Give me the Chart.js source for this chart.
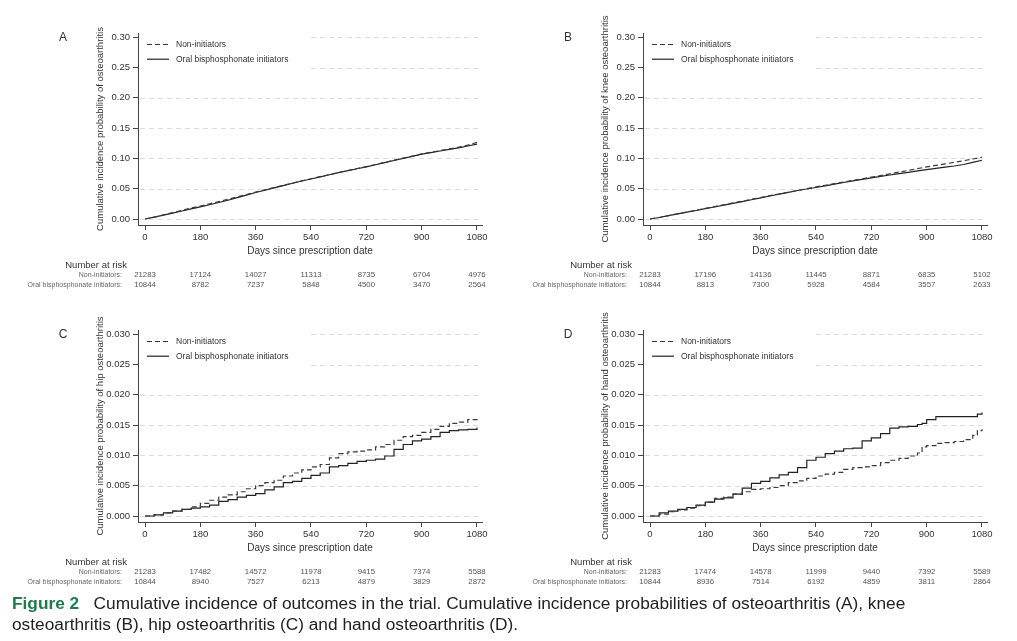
<!DOCTYPE html>
<html><head><meta charset="utf-8">
<script src="https://cdn.jsdelivr.net/npm/chart.js@4.4.1/dist/chart.umd.min.js"></script>
<style>
body{margin:0;background:#fff;width:1017px;height:641px;overflow:hidden;position:relative;font-family:"Liberation Sans",Arial,sans-serif}
canvas{position:absolute}
#cap{position:absolute;left:12px;top:593px;width:1005px;font-size:17.3px;line-height:21px;color:#222;white-space:nowrap}
#cap b{color:#1f7a50}
</style></head><body>
<canvas id="cA" width="505" height="297" style="left:0;top:0"></canvas>
<canvas id="cB" width="512" height="297" style="left:505px;top:0"></canvas>
<canvas id="cC" width="505" height="297" style="left:0;top:297px"></canvas>
<canvas id="cD" width="512" height="297" style="left:505px;top:297px"></canvas>
<div id="cap"><b>Figure 2</b>&nbsp;&nbsp; Cumulative incidence of outcomes in the trial. Cumulative incidence probabilities of osteoarthritis (A), knee<br>osteoarthritis (B), hip osteoarthritis (C) and hand osteoarthritis (D).</div>
<script>
// ---- data ----
const seriesNames = ['Non-initiators', 'Oral bisphosphonate initiators'];
const xTicks = [0, 180, 360, 540, 720, 900, 1080];
const yTicksAB = [0, 0.05, 0.10, 0.15, 0.20, 0.25, 0.30];
const yTicksCD = [0, 0.005, 0.010, 0.015, 0.020, 0.025, 0.030];
const riskLabels = ['Non-initiators:', 'Oral bisphosphonate initiators:'];

const daysAB = [0, 30, 60, 90, 120, 150, 180, 210, 240, 270, 300, 330, 360, 390, 420, 450, 480, 510, 540, 570, 600, 630, 660, 690, 720, 750, 780, 810, 840, 870, 900, 930, 960, 990, 1020, 1050, 1080];
const nonA = [0, 0.003, 0.0068, 0.0105, 0.0142, 0.018, 0.0215, 0.025, 0.0288, 0.0325, 0.0365, 0.0405, 0.0445, 0.0482, 0.052, 0.0557, 0.0593, 0.063, 0.0665, 0.070, 0.0733, 0.0768, 0.080, 0.0833, 0.0865, 0.090, 0.0935, 0.097, 0.1005, 0.104, 0.1075, 0.110, 0.1128, 0.1157, 0.1185, 0.122, 0.1265];
const bisA = [0, 0.003, 0.0065, 0.0098, 0.0132, 0.0166, 0.020, 0.0235, 0.0272, 0.031, 0.0352, 0.0395, 0.0437, 0.0475, 0.0515, 0.0552, 0.059, 0.0627, 0.066, 0.0695, 0.073, 0.0765, 0.0798, 0.083, 0.086, 0.0895, 0.093, 0.0965, 0.100, 0.1035, 0.107, 0.1095, 0.1122, 0.115, 0.1175, 0.1205, 0.1235];
const riskNonA = [21283, 17124, 14027, 11313, 8735, 6704, 4976];
const riskBisA = [10844, 8782, 7237, 5848, 4500, 3470, 2564];

const nonB = [0, 0.0025, 0.0055, 0.0085, 0.0115, 0.0145, 0.0175, 0.0205, 0.0235, 0.0265, 0.0295, 0.0325, 0.0355, 0.0385, 0.0413, 0.0442, 0.047, 0.050, 0.053, 0.0557, 0.0583, 0.061, 0.0637, 0.0663, 0.069, 0.0718, 0.0746, 0.0774, 0.0802, 0.083, 0.086, 0.0885, 0.091, 0.0935, 0.0962, 0.099, 0.102];
const bisB = [0, 0.0025, 0.0055, 0.0085, 0.0112, 0.014, 0.017, 0.0198, 0.0228, 0.0258, 0.0288, 0.0318, 0.035, 0.038, 0.041, 0.044, 0.047, 0.0495, 0.052, 0.0547, 0.0575, 0.0603, 0.063, 0.0655, 0.068, 0.0703, 0.0726, 0.0748, 0.077, 0.0793, 0.0815, 0.0835, 0.0855, 0.0875, 0.090, 0.0935, 0.097];
const riskNonB = [21283, 17196, 14136, 11445, 8871, 6835, 5102];
const riskBisB = [10844, 8813, 7300, 5928, 4584, 3557, 2633];

const daysC = [0, 30, 60, 90, 120, 150, 180, 210, 240, 270, 300, 330, 360, 390, 420, 450, 480, 510, 540, 570, 600, 630, 660, 690, 720, 750, 780, 810, 840, 870, 900, 930, 960, 990, 1020, 1050, 1080];
const nonC = [0, 0.0002, 0.0005, 0.0008, 0.0011, 0.0015, 0.0021, 0.0026, 0.0031, 0.0035, 0.0040, 0.0045, 0.0050, 0.0055, 0.0059, 0.0066, 0.0071, 0.0076, 0.0081, 0.0085, 0.0096, 0.0103, 0.0106, 0.0107, 0.0109, 0.0114, 0.0118, 0.0125, 0.0131, 0.0133, 0.0138, 0.0143, 0.0148, 0.0153, 0.0155, 0.0159, 0.0164];
const bisC = [0, 0.0002, 0.0005, 0.0008, 0.0011, 0.0013, 0.0015, 0.0018, 0.0024, 0.0027, 0.0031, 0.0034, 0.0037, 0.0043, 0.0048, 0.0055, 0.0057, 0.0062, 0.0067, 0.0071, 0.0081, 0.0083, 0.0087, 0.0090, 0.0092, 0.0094, 0.0099, 0.0110, 0.0118, 0.0124, 0.0127, 0.0131, 0.0138, 0.0141, 0.0142, 0.0143, 0.0146];
const riskNonC = [21283, 17482, 14572, 11978, 9415, 7374, 5588];
const riskBisC = [10844, 8940, 7527, 6213, 4879, 3829, 2872];

const daysD = [0, 30, 60, 90, 120, 150, 180, 210, 240, 270, 300, 330, 360, 390, 420, 450, 480, 510, 540, 570, 600, 630, 660, 690, 720, 750, 780, 810, 840, 870, 885, 900, 930, 960, 990, 1020, 1050, 1065, 1080];
const nonD = [0, 0.0003, 0.0007, 0.0010, 0.0013, 0.0017, 0.0023, 0.0029, 0.0031, 0.0036, 0.0040, 0.0044, 0.0045, 0.0047, 0.0050, 0.0055, 0.0058, 0.0062, 0.0066, 0.0069, 0.0072, 0.0077, 0.0080, 0.0081, 0.0083, 0.0088, 0.0092, 0.0095, 0.0099, 0.0104, 0.0114, 0.0116, 0.0120, 0.0121, 0.0123, 0.0126, 0.0133, 0.0141, 0.0143];
const bisD = [0, 0.0005, 0.0008, 0.0011, 0.0014, 0.0018, 0.0023, 0.0028, 0.0030, 0.0036, 0.0046, 0.0054, 0.0057, 0.0063, 0.0068, 0.0072, 0.0080, 0.0092, 0.0097, 0.0103, 0.0107, 0.0111, 0.0112, 0.0124, 0.0129, 0.0136, 0.0145, 0.0147, 0.0148, 0.0151, 0.0153, 0.0159, 0.0164, 0.0164, 0.0164, 0.0164, 0.0164, 0.0168, 0.0171];
const riskNonD = [21283, 17474, 14578, 11999, 9440, 7392, 5589];
const riskBisD = [10844, 8936, 7514, 6192, 4859, 3811, 2864];

// ---- drawing ----
const FONT = '"Liberation Sans", Arial, sans-serif';
const INK = '#333';

const decor = {
  id: 'decor',
  beforeDatasetsDraw(chart, args, o) {
    const {ctx, chartArea: ca, scales: {y}} = chart;
    ctx.save();
    ctx.strokeStyle = '#dcdcdc'; ctx.lineWidth = 1; ctx.setLineDash([5, 4]);
    o.yTicks.forEach(v => {
      const py = Math.round(y.getPixelForValue(v)) + 0.5;
      ctx.beginPath(); ctx.moveTo(ca.left + 2, py); ctx.lineTo(ca.right, py); ctx.stroke();
    });
    ctx.setLineDash([]);
    ctx.fillStyle = '#fff';
    ctx.fillRect(ca.left + 1, ca.top, 168, 40);
    chart.data.datasets.forEach((ds, i) => {
      const ly = ca.top + 11.5 + i * 14.7;
      ctx.strokeStyle = ds.borderColor; ctx.lineWidth = ds.borderWidth;
      ctx.setLineDash(ds.borderDash || []);
      ctx.beginPath(); ctx.moveTo(ca.left + 9, ly); ctx.lineTo(ca.left + 31, ly); ctx.stroke();
      ctx.setLineDash([]);
      ctx.fillStyle = INK; ctx.font = '8.5px ' + FONT; ctx.textAlign = 'left'; ctx.textBaseline = 'middle';
      ctx.fillText(ds.label, ca.left + 38, ly);
    });
    ctx.restore();
  },
  afterDraw(chart, args, o) {
    const {ctx, chartArea: ca, scales: {x}} = chart;
    ctx.save();
    ctx.fillStyle = INK; ctx.font = '12px ' + FONT; ctx.textAlign = 'center'; ctx.textBaseline = 'middle';
    ctx.fillText(o.letter, ca.left - 75, ca.top + 5);
    ctx.font = '9.5px ' + FONT; ctx.textAlign = 'right';
    ctx.fillText('Number at risk', ca.left - 11, ca.bottom + 40);
    o.risk.forEach((row, r) => {
      const ry = ca.bottom + 50 + r * 10;
      ctx.fillStyle = '#666'; ctx.font = '7px ' + FONT; ctx.textAlign = 'right';
      ctx.fillText(riskLabels[r], ca.left - 16, ry);
      ctx.fillStyle = '#555'; ctx.font = '7.8px ' + FONT; ctx.textAlign = 'center';
      row.forEach((n, i) => ctx.fillText(String(n), x.getPixelForValue(xTicks[i]), ry));
    });
    ctx.restore();
  }
};

function panel(id, letter, days, non, bis, yTicks, yMax, dec, yTitle, risk, W, stepped) {
  const mk = vals => days.map((d, i) => ({x: d, y: vals[i]}));
  new Chart(document.getElementById(id), {
    type: 'line',
    data: {datasets: [
      {label: seriesNames[0], data: mk(non), borderColor: '#3a3a3a', borderWidth: 1.2, borderDash: [5, 3], stepped: stepped, tension: 0, pointRadius: 0, fill: false},
      {label: seriesNames[1], data: mk(bis), borderColor: '#222', borderWidth: 1.2, stepped: stepped, tension: 0, pointRadius: 0, fill: false}
    ]},
    options: {
      responsive: false, animation: false, devicePixelRatio: 1,
      layout: {padding: {left: 0, top: 33, right: W - 482, bottom: 39.3}},
      plugins: {legend: {display: false}, tooltip: {enabled: false},
        decor: {letter: letter, yTicks: yTicks, risk: risk}},
      scales: {
        x: {type: 'linear', min: -22.8, max: 1096.3,
          afterBuildTicks: s => { s.ticks = xTicks.map(v => ({value: v})); },
          afterFit: s => { s.height = 32.7; },
          ticks: {autoSkip: false, maxRotation: 0, padding: 2, color: INK, font: {family: FONT, size: 9.5}, callback: v => String(v)},
          grid: {display: true, drawOnChartArea: false, drawTicks: true, tickLength: 5, tickColor: '#444'},
          border: {display: true, color: '#444', width: 1},
          title: {display: true, text: 'Days since prescription date', color: INK, font: {family: FONT, size: 10, lineHeight: 1.2}, padding: {top: 0, bottom: 0}}
        },
        y: {type: 'linear', min: -yMax * 0.033, max: yMax * 1.0233,
          afterBuildTicks: s => { s.ticks = yTicks.map(v => ({value: v})); },
          afterFit: s => { s.width = 138; },
          ticks: {autoSkip: false, padding: 3, color: INK, font: {family: FONT, size: 9.5}, callback: v => Number(v).toFixed(dec)},
          grid: {display: true, drawOnChartArea: false, drawTicks: true, tickLength: 5, tickColor: '#444'},
          border: {display: true, color: '#444', width: 1},
          title: {display: true, text: yTitle, color: INK, font: {family: FONT, size: 9.5, lineHeight: 1.2}, padding: {top: 94.3, bottom: 0}}
        }
      }
    },
    plugins: [decor]
  });
}

panel('cA', 'A', daysAB, nonA, bisA, yTicksAB, 0.30, 2, 'Cumulative incidence probability of osteoarthritis', [riskNonA, riskBisA], 505, false);
panel('cB', 'B', daysAB, nonB, bisB, yTicksAB, 0.30, 2, 'Cumulative incidence probability of knee osteoarthritis', [riskNonB, riskBisB], 512, false);
panel('cC', 'C', daysC, nonC, bisC, yTicksCD, 0.030, 3, 'Cumulative incidence probability of hip osteoarthritis', [riskNonC, riskBisC], 505, true);
panel('cD', 'D', daysD, nonD, bisD, yTicksCD, 0.030, 3, 'Cumulative incidence probability of hand osteoarthritis', [riskNonD, riskBisD], 512, true);
</script>
</body></html>
